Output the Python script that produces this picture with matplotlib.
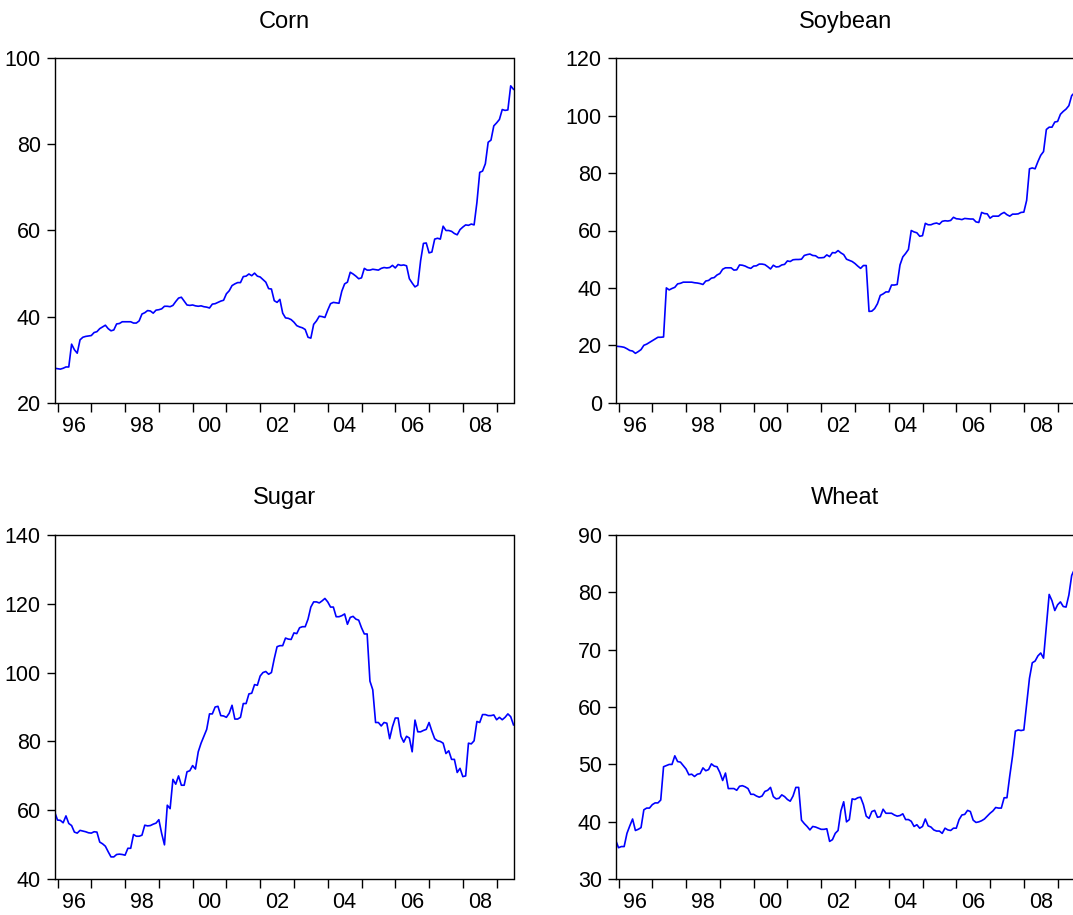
import numpy as np
import matplotlib
matplotlib.use("Agg")
import matplotlib.pyplot as plt
from matplotlib.ticker import FixedLocator, NullFormatter, FixedFormatter

plt.rcParams['font.family'] = ['Liberation Sans', 'DejaVu Sans']

# Monthly observations, 1995M12 .. 2009M07
start_year = 1995
start_month = 12

corn = [28.0, 27.9, 27.8, 28.0, 28.3, 28.3, 33.6, 32.3, 31.5, 34.6, 35.2, 35.4, 35.5, 35.6, 36.3, 36.5,
        37.2, 37.6, 38.0, 37.2, 36.7, 36.9, 38.3, 38.4, 38.8, 38.8, 38.8, 38.8, 38.5, 38.5, 39.0, 40.6,
        40.9, 41.4, 41.3, 40.8, 41.5, 41.6, 41.8, 42.4, 42.4, 42.3, 42.6, 43.5, 44.3, 44.5, 43.6, 42.7,
        42.6, 42.7, 42.5, 42.4, 42.5, 42.3, 42.2, 42.0, 42.9, 43.0, 43.3, 43.6, 43.8, 45.3, 46.0, 47.2,
        47.6, 47.9, 47.9, 49.3, 49.4, 49.9, 49.5, 50.1, 49.4, 49.2, 48.6, 48.0, 46.5, 46.4, 43.7, 43.3,
        44.0, 40.8, 39.7, 39.6, 39.3, 38.7, 37.9, 37.6, 37.4, 37.0, 35.2, 35.0, 38.2, 39.0, 40.1, 40.0,
        39.8, 41.5, 43.0, 43.3, 43.2, 43.1, 45.9, 47.6, 48.0, 50.3, 49.9, 49.4, 48.8, 49.0, 51.2, 50.8,
        50.8, 51.0, 50.9, 50.8, 51.2, 51.4, 51.3, 51.4, 51.9, 51.3, 52.1, 51.9, 52.0, 51.8, 48.8, 47.8,
        46.9, 47.3, 53.0, 57.0, 57.1, 54.8, 55.0, 58.0, 58.2, 58.0, 61.0, 60.0, 60.0, 59.8, 59.3, 59.0,
        60.2, 60.8, 61.3, 61.2, 61.5, 61.3, 66.5, 73.5, 73.8, 75.5, 80.5, 81.0, 84.3, 85.0, 85.8, 88.1,
        87.9, 88.0, 93.6, 92.8]

soybean = [19.7, 19.6, 19.5, 19.3, 18.8, 18.2, 18.0, 17.2, 17.8, 18.5, 20.0, 20.4, 21.0, 21.6, 22.2, 22.8,
           22.8, 22.9, 40.0, 39.3, 39.8, 40.2, 41.4, 41.6, 42.0, 42.0, 42.0, 42.0, 41.8, 41.7, 41.5, 41.2,
           42.4, 42.6, 43.4, 43.6, 44.5, 45.0, 46.5, 47.0, 47.0, 47.0, 46.2, 46.3, 48.0, 47.9, 47.6, 47.1,
           46.8, 47.6, 47.7, 48.3, 48.3, 48.1, 47.4, 46.6, 47.9, 47.3, 47.4, 48.0, 48.2, 49.4, 49.2, 49.8,
           49.9, 49.9, 50.0, 51.3, 51.6, 51.8, 51.3, 51.2, 50.5, 50.5, 50.6, 51.5, 50.9, 52.3, 52.2, 53.0,
           52.2, 51.6, 50.0, 49.6, 49.2, 48.5, 47.6, 46.8, 47.8, 47.8, 31.8, 31.9, 32.8, 34.5, 37.4, 37.9,
           38.6, 38.6, 41.0, 41.0, 41.2, 48.0, 50.8, 52.0, 53.4, 60.0, 59.5, 59.2, 58.0, 58.2, 62.5, 62.0,
           62.0, 62.4, 62.6, 62.2, 63.2, 63.4, 63.3, 63.5, 64.6, 64.1, 64.0, 63.8, 64.2, 64.1, 64.0, 64.0,
           63.0, 62.8, 66.3, 65.9, 65.8, 64.3, 65.0, 65.0, 65.0, 65.8, 66.3, 65.5, 65.0, 65.7, 65.7, 65.8,
           66.3, 66.4, 70.5, 81.5, 81.8, 81.5, 84.0, 86.2, 87.5, 95.2, 96.0, 96.0, 97.8, 98.0, 100.5, 101.5,
           102.3, 103.5, 107.0, 108.0]

sugar = [59.5, 57.2, 57.1, 56.4, 58.4, 56.2, 55.6, 53.7, 53.4, 54.2, 54.0, 53.8, 53.5, 53.4, 53.8, 53.7,
         50.8, 50.3, 49.6, 48.0, 46.5, 46.5, 47.2, 47.3, 47.2, 47.0, 49.0, 49.0, 53.0, 52.5, 52.5, 52.8,
         55.7, 55.5, 55.6, 56.0, 56.3, 57.3, 53.3, 50.0, 61.5, 60.5, 69.0, 67.6, 70.0, 67.3, 67.3, 71.2,
         71.5, 73.0, 72.0, 77.0, 79.5, 81.5, 83.5, 88.0, 88.0, 90.0, 90.2, 87.5, 87.4, 87.0, 88.2, 90.5,
         86.5, 86.5, 87.0, 91.0, 91.0, 93.8, 94.0, 96.5, 96.3, 99.0, 100.0, 100.3, 99.5, 100.0, 104.0, 107.5,
         107.8, 107.8, 110.0, 109.7, 109.6, 111.5, 111.3, 113.0, 113.3, 113.3, 115.5, 119.0, 120.5, 120.5, 120.2, 120.8,
         121.5, 120.5, 119.0, 119.0, 116.2, 116.2, 116.5, 117.0, 114.0, 116.0, 116.3, 115.5, 115.2, 113.0, 111.2, 111.2,
         97.5, 95.0, 85.5, 85.5, 84.5, 85.5, 85.3, 80.8, 84.3, 86.8, 86.8, 81.5, 79.8, 81.5, 81.0, 77.0,
         86.2, 82.8, 82.8, 83.2, 83.5, 85.5, 83.0, 80.8, 80.2, 80.0, 79.5, 76.5, 77.3, 74.8, 74.8, 71.0,
         72.2, 69.8, 70.0, 79.5, 79.3, 80.2, 85.8, 85.5, 87.8, 87.8, 87.5, 87.5, 87.7, 86.3, 87.0, 86.3,
         87.0, 88.0, 87.2, 84.8]

wheat = [36.8, 35.5, 35.7, 35.7, 38.0, 39.3, 40.5, 38.5, 38.7, 39.0, 42.1, 42.4, 42.4, 43.0, 43.3, 43.3,
         43.8, 49.6, 49.8, 50.0, 50.0, 51.5, 50.5, 50.4, 49.8, 49.2, 48.2, 48.3, 47.9, 48.3, 48.4, 49.4,
         48.9, 49.1, 50.1, 49.7, 49.6, 48.6, 47.2, 48.5, 45.8, 45.8, 45.8, 45.5, 46.2, 46.3, 46.1, 45.8,
         44.8, 44.8, 44.5, 44.3, 44.5, 45.3, 45.5, 46.0, 44.4, 44.0, 44.1, 44.7, 44.4, 43.9, 43.6, 44.5,
         46.0, 46.0, 40.3, 39.7, 39.2, 38.6, 39.2, 39.1, 38.9, 38.7, 38.7, 38.8, 36.6, 36.9, 38.0, 38.5,
         41.9, 43.5, 40.0, 40.4, 44.0, 43.9, 44.2, 44.3, 43.0, 41.0, 40.6, 41.8, 42.0, 40.8, 40.9, 42.2,
         41.5, 41.5, 41.5, 41.2, 41.0, 41.1, 41.4, 40.4, 40.4, 40.1, 39.2, 39.5, 38.9, 39.2, 40.5, 39.3,
         39.1, 38.6, 38.4, 38.4, 38.0, 38.9, 38.6, 38.5, 38.9, 38.9, 40.4, 41.2, 41.3, 42.0, 41.8, 40.3,
         39.9, 40.0, 40.2, 40.5, 41.0, 41.5, 41.9, 42.5, 42.4, 42.4, 44.2, 44.2, 48.0, 51.5, 55.8, 56.0,
         55.9, 56.0, 60.5, 65.0, 67.7, 68.0, 68.9, 69.4, 68.5, 74.0, 79.6, 78.5, 76.8, 77.8, 78.3, 77.5,
         77.4, 79.5, 82.9, 84.0]

titles = ["Corn", "Soybean", "Sugar", "Wheat"]
series = [corn, soybean, sugar, wheat]
y_ranges = [(20, 100, 20), (0, 120, 20), (40, 140, 20), (30, 90, 10)]
year_labels = ["96", "98", "00", "02", "04", "06", "08"]
label_years = [1996, 1998, 2000, 2002, 2004, 2006, 2008]

W, H = 1073, 915
fig = plt.figure(figsize=(W / 100, H / 100), dpi=100)

# pixel boxes: (left, top, right, bottom)
boxes = [(54.7, 58.3, 513.5, 402.7), (615.7, 58.3, 1074.5, 402.7),
         (54.7, 534.7, 513.5, 879.3), (615.7, 534.7, 1074.5, 879.3)]

for title, vals, (y0, y1, ys), (l, t, r, b) in zip(titles, series, y_ranges, boxes):
    ax = fig.add_axes([l / W, 1 - b / H, (r - l) / W, (b - t) / H])
    n = len(vals)
    tt = start_year + (start_month - 1) / 12 + np.arange(n) / 12
    ax.plot(tt, vals, color="#0000ff", lw=1.2)
    ax.set_xlim(tt[0], tt[-1])
    ax.set_ylim(y0, y1)
    ax.set_yticks(np.arange(y0, y1 + 0.1, ys))
    ax.xaxis.set_major_locator(FixedLocator(np.arange(1996, 2010)))
    ax.xaxis.set_major_formatter(NullFormatter())
    ax.xaxis.set_minor_locator(FixedLocator([y + 0.5 for y in label_years]))
    ax.xaxis.set_minor_formatter(FixedFormatter(year_labels))
    ax.tick_params(axis="x", which="major", direction="out", length=6.5, width=1.0, color="black")
    ax.tick_params(axis="x", which="minor", length=0, pad=9.5, labelsize=15.5)
    ax.tick_params(axis="y", which="major", direction="out", length=6, width=1.0, pad=4, labelsize=15.5)
    for sp in ax.spines.values():
        sp.set_linewidth(1.0)
        sp.set_color("black")
    ax.set_title(title, fontsize=17, pad=22)

fig.savefig("out.png", dpi=100)
